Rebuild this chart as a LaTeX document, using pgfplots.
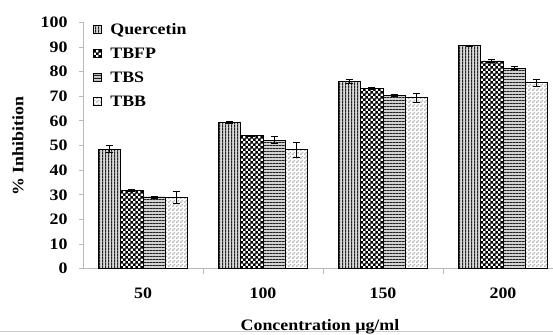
\documentclass[border=0pt]{standalone}
\usepackage{fontspec}
\setmainfont[FakeStretch=1.12]{Liberation Serif}
\usepackage{pgfplots}
\pgfplotsset{compat=1.18}
\usetikzlibrary{patterns}

\pgfdeclarepatternformonly{vlines}{\pgfpointorigin}{\pgfpoint{3.2bp}{3.2bp}}{\pgfpoint{3.2bp}{3.2bp}}{%
  \pgfpathrectangle{\pgfpointorigin}{\pgfpoint{1.3bp}{3.2bp}}\pgfusepath{fill}}
\pgfdeclarepatternformonly{hlines}{\pgfpointorigin}{\pgfpoint{3.3bp}{3.3bp}}{\pgfpoint{3.3bp}{3.3bp}}{%
  \pgfpathrectangle{\pgfpointorigin}{\pgfpoint{3.3bp}{1.2bp}}\pgfusepath{fill}}
\pgfdeclarepatternformonly{bigchecker}{\pgfpointorigin}{\pgfpoint{5.4bp}{5.4bp}}{\pgfpoint{5.4bp}{5.4bp}}{%
  \pgfpathrectangle{\pgfpointorigin}{\pgfpoint{2.9bp}{2.9bp}}%
  \pgfpathrectangle{\pgfpoint{2.7bp}{2.7bp}}{\pgfpoint{2.9bp}{2.9bp}}\pgfusepath{fill}}
\pgfdeclarepatternformonly{smallchecker}{\pgfpointorigin}{\pgfpoint{4bp}{4bp}}{\pgfpoint{4bp}{4bp}}{%
  \pgfpathrectangle{\pgfpointorigin}{\pgfpoint{2bp}{2bp}}%
  \pgfpathrectangle{\pgfpoint{2bp}{2bp}}{\pgfpoint{2bp}{2bp}}\pgfusepath{fill}}

\newcommand{\lblfont}{\fontsize{16}{18}\selectfont\bfseries}

\begin{document}
\begin{tikzpicture}
\begin{axis}[
  at={(83bp,66.3bp)}, anchor=south west,
  scale only axis, width=480bp, height=246.4bp,
  xmin=-0.5, xmax=3.5, ymin=0, ymax=100,
  axis x line=bottom, axis y line=left,
  axis line style={-, draw=gray!55, line width=0.8bp},
  ybar=0pt, bar width=22.3bp,
  ytick={0,10,...,100},
  xtick={0,1,2,3}, xticklabels={50,100,150,200},
  extra x ticks={0.5,1.5,2.5}, extra x tick labels={},
  extra x tick style={xtick style={draw=gray!55, line width=0.8bp}, major tick length=5bp},
  xtick style={draw=none},
  ytick style={draw=gray!55, line width=0.8bp},
  tick align=outside, major tick length=4bp,
  tick label style={font=\lblfont},
  /pgf/number format/assume math mode=true,
  xticklabel style={yshift=-12bp},
  yticklabel style={xshift=-8bp},
  every axis plot/.append style={draw=black, line width=0.8bp},
  error bars/y dir=both, error bars/y explicit,
  error bars/error bar style={black, line width=0.8bp},
  error bars/error mark options={rotate=90, mark size=3.5bp, black, line width=0.8bp},
  legend image code/.code={\draw[#1, line width=0.6bp] (0bp,-4bp) rectangle (8bp,4bp);},
  legend style={at={(axis description cs:0.02,1.005)}, anchor=north west,
    draw=none, fill=none, inner sep=0pt, row sep=8bp, font=\lblfont,
    legend cell align=left,
    /tikz/every odd column/.append style={column sep=7bp}},
]
\addplot[fill=gray!30, postaction={pattern=vlines, pattern color=gray!25!black}]
  coordinates {(0,48.5) +- (0,1.4) (1,59.3) +- (0,0.5) (2,76.0) +- (0,0.8) (3,90.5) +- (0,0.3)};
\addplot[fill=white, postaction={pattern=bigchecker, pattern color=black}]
  coordinates {(0,31.8) +- (0,0.3) (1,54.0) +- (0,0.3) (2,73.2) +- (0,0.3) (3,84.3) +- (0,0.5)};
\addplot[fill=gray!35, postaction={pattern=hlines, pattern color=gray!25!black}]
  coordinates {(0,29.1) +- (0,0.4) (1,52.2) +- (0,1.5) (2,70.4) +- (0,0.5) (3,81.4) +- (0,0.7)};
\addplot[fill=white, postaction={pattern=smallchecker, pattern color=gray!55}]
  coordinates {(0,29.0) +- (0,2.3) (1,48.3) +- (0,3.0) (2,69.4) +- (0,1.9) (3,75.5) +- (0,1.4)};
\legend{Quercetin,TBFP,TBS,TBB}
\end{axis}
\node[rotate=90, font=\lblfont] at (18bp,189bp) {\% Inhibition};
\draw[gray!40, line width=0.8bp] (0,3.3bp) -- (553bp,3.3bp);
\node[anchor=base, font=\lblfont] at (320bp,4.2bp) {Concentration µg/ml};
\pgfresetboundingbox
\useasboundingbox (0,0) rectangle (553bp,335bp);
\end{tikzpicture}
\end{document}
